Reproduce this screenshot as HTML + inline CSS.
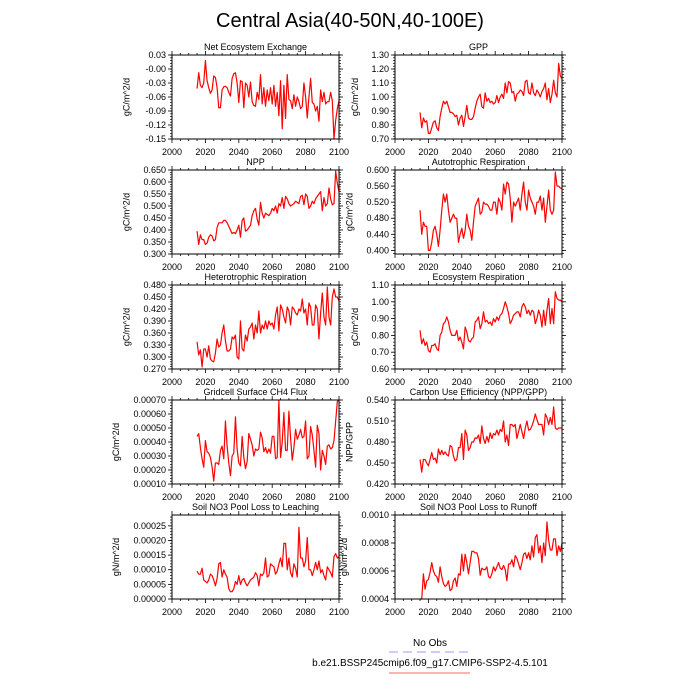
<!DOCTYPE html>
<html><head><meta charset="utf-8"><style>
body{margin:0;background:#fff;}
svg{display:block;font-family:"Liberation Sans",Arial,sans-serif;}
</style></head><body>
<svg id="c" width="700" height="700" viewBox="0 0 700 700">
<text x="350" y="27" text-anchor="middle" font-size="20">Central Asia(40-50N,40-100E)</text>
<g>
<text x="430" y="646" text-anchor="middle" font-size="10">No Obs</text>
<line x1="389" y1="652" x2="471" y2="652" stroke="#9999ff" stroke-width="1" stroke-dasharray="9,5"/>
<text x="430" y="666" text-anchor="middle" font-size="10">b.e21.BSSP245cmip6.f09_g17.CMIP6-SSP2-4.5.101</text>
<line x1="389" y1="673" x2="470" y2="673" stroke="#ff6666" stroke-width="1"/>
</g>
</svg>
<script>
const years = Array.from({length:86},(_, i)=>2015+i);
const xTicks = [2000,2020,2040,2060,2080,2100];
const nee = [-0.042,-0.008,-0.035,-0.04,-0.03, 0.018,-0.025,-0.04,-0.052,-0.045,-0.015,-0.018,-0.04,-0.083,-0.083, -0.045,-0.038,-0.037,-0.04,-0.05,-0.058,-0.02,-0.01,-0.008,-0.03, -0.072,-0.025,-0.027,-0.083,-0.03,-0.035,-0.06,-0.028,-0.07,-0.078, -0.08,-0.05,-0.065,-0.012,-0.075,-0.04,-0.08,-0.045,-0.068,-0.04, -0.075,-0.035,-0.08,-0.05,-0.1,-0.025,-0.128,-0.035,-0.106,-0.012, -0.065,-0.068,-0.085,-0.055,-0.08,-0.06,-0.07,-0.085,-0.08,-0.03, -0.06,-0.105,-0.06,-0.02,-0.072,-0.075,-0.09,-0.08,-0.112,-0.045, -0.07,-0.05,-0.075,-0.07,-0.07,-0.05,-0.068,-0.15,-0.11,-0.085,-0.068];
const gpp = [0.89,0.78,0.85,0.82,0.83, 0.74,0.74,0.78,0.82,0.83,0.78,0.76,0.86,0.92,0.97, 0.95,0.97,0.93,0.89,0.89,0.88,0.86,0.87,0.80,0.85, 0.87,0.79,0.86,0.94,0.85,0.84,0.84,0.86,0.92,0.97, 1.00,1.02,0.93,0.92,1.03,0.97,0.99,0.96,0.97,0.95, 0.96,1.01,0.96,1.00,1.02,0.99,1.10,1.03,1.11,1.10, 1.03,1.04,0.97,1.02,1.03,1.05,1.04,1.01,1.11,1.12, 1.03,1.02,1.10,1.03,1.01,1.05,1.03,1.00,1.04,1.06, 1.10,0.98,1.06,0.96,1.02,1.12,1.03,1.00,1.24,1.15,1.13];
const npp = [.395,.34,.38,.36,.36, .34,.345,.37,.38,.375,.355,.36,.41,.43,.43, .43,.44,.44,.43,.415,.40,.385,.39,.385,.40, .42,.37,.44,.45,.395,.40,.41,.42,.46,.48, .49,.445,.42,.515,.47,.45,.47,.465,.46,.47, .49,.48,.50,.47,.51,.50,.535,.49,.54,.53, .51,.50,.505,.51,.52,.515,.51,.54,.545,.505, .55,.54,.49,.50,.52,.51,.53,.54,.55,.56, .48,.535,.50,.51,.575,.53,.505,.51,.645,.595,.56];
const ar = [.50,.44,.47,.46,.46, .40,.40,.42,.45,.46,.44,.41,.45,.50,.54, .52,.54,.50,.47,.48,.49,.48,.48,.42,.44, .455,.43,.45,.49,.46,.45,.425,.47,.51,.52, .53,.49,.495,.52,.515,.515,.51,.50,.50,.52, .52,.49,.53,.52,.50,.565,.54,.57,.565,.53, .47,.52,.51,.52,.53,.50,.54,.57,.52,.50, .55,.53,.52,.51,.49,.52,.52,.535,.50,.53, .47,.51,.55,.50,.49,.50,.595,.56,.56,.555,.555];
const hr = [.338,.305,.318,.275,.32, .32,.30,.328,.295,.29,.288,.31,.345,.325,.33, .36,.38,.34,.315,.315,.32,.35,.345,.355,.30, .295,.39,.32,.315,.355,.34,.37,.375,.385,.345, .38,.36,.415,.36,.38,.37,.39,.37,.39,.38, .385,.37,.405,.425,.365,.43,.42,.40,.385,.425, .415,.38,.425,.42,.41,.405,.42,.415,.445,.41, .42,.38,.435,.425,.38,.38,.43,.42,.345,.41, .46,.40,.38,.475,.40,.38,.45,.47,.45,.45,.44];
const er = [.83,.75,.78,.74,.76, .71,.70,.74,.74,.75,.72,.71,.80,.82,.87, .88,.91,.88,.83,.80,.80,.80,.83,.77,.79, .76,.72,.85,.82,.77,.76,.78,.79,.88,.89, .91,.84,.87,.94,.88,.89,.87,.88,.86,.90, .88,.91,.89,.92,.93,.96,1.00,.97,.93,.87, .89,.92,.93,.94,.94,.91,.97,.99,.97,.93, .95,.92,.95,.94,.87,.90,.95,.92,.85,.95, .86,.95,1.02,.87,.96,.87,1.06,1.02,1.01,1.01,1.0];
const ch4 = [4.4,4.6,3.6,2.8,2.2, 4.1,3.3,3.2,2.9,2.2,1.2,2.5,2.5,2.4,3.4, 3.7,2.8,5.5,3.7,2.5,1.6,3.0,3.2,5.8,3.5, 2.5,2.3,4.4,2.9,2.1,2.6,4.6,4.2,3.8,3.0, 3.5,3.4,3.5,4.7,4.3,3.3,3.6,3.2,3.5,3.2, 4.4,4.4,2.8,2.9,7.0,2.9,4.0,6.1,3.4,3.4, 6.2,4.3,2.7,3.6,4.9,4.2,4.5,4.9,4.3,4.4, 5.5,2.8,3.0,5.1,4.5,3.4,2.2,5.2,4.6,2.0, 3.4,3.0,2.4,3.7,3.8,3.5,3.6,4.1,5.5,6.9,7.0].map(v=>v*1e-4);
const cue = [.455,.437,.455,.455,.45, .446,.455,.465,.455,.457,.45,.47,.462,.468,.462, .466,.462,.46,.475,.473,.46,.453,.455,.472,.472, .492,.455,.497,.49,.468,.472,.48,.48,.486,.485, .49,.478,.503,.485,.478,.488,.48,.493,.485,.492, .49,.497,.49,.498,.495,.51,.48,.49,.475,.505, .505,.502,.505,.485,.495,.505,.495,.485,.5,.51, .497,.498,.503,.51,.52,.512,.505,.505,.505,.49, .52,.515,.505,.515,.505,.53,.5,.498,.5,.5,.5];
const leach = [9.5,8.5,8.5,10.5,6.5, 6,5.5,6.5,8.5,8,6.5,4.5,7,12,12.5, 7.5,10,8.5,7.5,3.5,2.5,2.5,3.5,6,5, 8,5,6.5,7,5.5,4.5,5.5,6.5,7,7.5, 9,8,4.5,8.5,8,9,14,7.5,8,12, 11.5,11,8.5,9.5,12,14,11,19,19,10, 14,9,7.5,12,10.5,7.5,24.5,14,14,11, 13,21,10,10,8,10,12.5,10,13,9, 10,8,6.5,11,10,9,7.5,14.5,15.5,14,14.5].map(v=>v*1e-5);
const runoff = [4.0,4.0,5.8,4.7,5.3, 5.4,5.9,6.6,6.0,5.7,5.6,5.2,6.3,5.6,5.1, 4.9,5.0,5.3,4.6,4.7,5.3,5.5,4.9,5.8,5.7, 7.2,6.0,7.2,6.6,5.8,6.6,7.4,7.4,7.3,7.3, 6.9,5.7,6.2,6.1,6.1,6.3,5.6,5.5,5.8,6.3, 6.0,6.3,6.6,6.2,6.1,6.4,6.1,5.3,6.5,6.5, 6.8,6.3,7.1,6.9,6.5,6.1,6.6,7.2,7.3,6.9, 7.3,6.8,7.8,7.0,8.4,8.6,7.3,7.8,6.6,8.0, 7.1,9.5,8.2,7.5,7.5,8.3,8.3,7.1,7.8,7.4,8.0].map(v=>v*1e-4);
const neeTicks = [-0.15,-0.12,-0.09,-0.06,-0.03,0.0,0.03];
const neeLabels = ["-0.15","-0.12","-0.09","-0.06","-0.03","-0.00","0.03"];
const gppTicks = [0.7,0.8,0.9,1.0,1.1,1.2,1.3];
const nppTicks = [0.3,0.35,0.4,0.45,0.5,0.55,0.6,0.65];
const arTicks = [0.4,0.44,0.48,0.52,0.56,0.6];
const hrTicks = [0.27,0.3,0.33,0.36,0.39,0.42,0.45,0.48];
const erTicks = [0.6,0.7,0.8,0.9,1.0,1.1];
const ch4Ticks = [0.0001,0.0002,0.0003,0.0004,0.0005,0.0006,0.0007];
const cueTicks = [0.42,0.45,0.48,0.51,0.54];
const leachTicks = [0,0.00005,0.0001,0.00015,0.0002,0.00025];
const runoffTicks = [0.0004,0.0006,0.0008,0.001];

const panels = [
 {name:"nee",title:"Net Ecosystem Exchange",unit:"gC/m^2/d",d:nee,min:-0.15,max:0.03,t:neeTicks,lab:neeLabels,col:0,row:0},
 {name:"gpp",title:"GPP",unit:"gC/m^2/d",d:gpp,min:0.7,max:1.3,t:gppTicks,dec:2,col:1,row:0},
 {name:"npp",title:"NPP",unit:"gC/m^2/d",d:npp,min:0.3,max:0.65,t:nppTicks,dec:3,col:0,row:1},
 {name:"ar",title:"Autotrophic Respiration",unit:"gC/m^2/d",d:ar,min:0.391,max:0.6,t:arTicks,dec:3,col:1,row:1},
 {name:"hr",title:"Heterotrophic Respiration",unit:"gC/m^2/d",d:hr,min:0.27,max:0.48,t:hrTicks,dec:3,col:0,row:2},
 {name:"er",title:"Ecosystem Respiration",unit:"gC/m^2/d",d:er,min:0.6,max:1.1,t:erTicks,dec:2,col:1,row:2},
 {name:"ch4",title:"Gridcell Surface CH4 Flux",unit:"gC/m^2/d",d:ch4,min:0.0001,max:0.0007,t:ch4Ticks,dec:5,col:0,row:3},
 {name:"cue",title:"Carbon Use Efficiency (NPP/GPP)",unit:"NPP/GPP",d:cue,min:0.42,max:0.54,t:cueTicks,dec:3,col:1,row:3},
 {name:"leach",title:"Soil NO3 Pool Loss to Leaching",unit:"gN/m^2/d",d:leach,min:0,max:0.000287,t:leachTicks,dec:5,col:0,row:4},
 {name:"runoff",title:"Soil NO3 Pool Loss to Runoff",unit:"gN/m^2/d",d:runoff,min:0.0004,max:0.001,t:runoffTicks,dec:4,col:1,row:4}
];
const NS="http://www.w3.org/2000/svg";
const svg=document.getElementById('c');
function mk(tag,attrs,parent){const e=document.createElementNS(NS,tag);for(const k in attrs)e.setAttribute(k,attrs[k]);parent.appendChild(e);return e;}
const W=167,H=84;
panels.forEach(p=>{
 const L=p.col?395:172, T=55+p.row*115;
 const g=mk('g',{},svg);
 
 
 const xs=v=>L+(v-2000)/100*W;
 const ys=v=>T+H-(v-p.min)/(p.max-p.min)*H;
 const labels=p.t.map((v,i)=>p.lab?p.lab[i]:v.toFixed(p.dec));
 const maxLen=Math.max(...labels.map(s=>s.length));
 const tt=mk('text',{x:L+W/2,y:T-5,'text-anchor':'middle','font-size':9},g);tt.textContent=p.title;
 
 
 const ux=L-6-maxLen*5.3-10;
 const yt=mk('text',{x:0,y:0,'text-anchor':'middle','font-size':9,transform:`translate(${ux},${T+H/2}) rotate(-90)`},g);yt.textContent=p.unit;
 
 
 for(let y=2000;y<=2100;y+=5){const x=xs(y);const len=(y%20===0)?4:2;
  mk('line',{x1:x,y1:T+H,x2:x,y2:T+H+len,stroke:'#000','stroke-width':0.8},g);
  mk('line',{x1:x,y1:T,x2:x,y2:T-len,stroke:'#000','stroke-width':0.8},g);}
 xTicks.forEach(y=>{const tx=mk('text',{x:xs(y),y:T+H+16,'text-anchor':'middle','font-size':9},g);tx.textContent=y;
  
  });
 const step=p.t[1]-p.t[0];const ms=step/5;
 for(let v=p.t[0]-5*ms;v<=p.max+1e-12;v+=ms){ if(v<p.min-1e-12)continue;const y=ys(v);
  mk('line',{x1:L,y1:y,x2:L-2,y2:y,stroke:'#000','stroke-width':0.7},g);
  mk('line',{x1:L+W,y1:y,x2:L+W+2,y2:y,stroke:'#000','stroke-width':0.7},g);}
 p.t.forEach((v,i)=>{const y=ys(v);
  mk('line',{x1:L,y1:y,x2:L-4,y2:y,stroke:'#000','stroke-width':0.8},g);
  mk('line',{x1:L+W,y1:y,x2:L+W+4,y2:y,stroke:'#000','stroke-width':0.8},g);
  const lt=mk('text',{x:L-6,y:y+3,'text-anchor':'end','font-size':9},g);
  lt.textContent=labels[i];
  
  });
 const pts=p.d.map((v,i)=>xs(years[i]).toFixed(2)+','+ys(v).toFixed(2)).join(' ');
 const ln=mk('polyline',{points:pts,fill:'none',stroke:'#ff0000','stroke-width':1.2,'stroke-linejoin':'round'},g);
 
 
 const fr=mk('rect',{x:L,y:T,width:W,height:H,fill:'none',stroke:'#000','stroke-width':1},g);
 
 
});
</script>
</body></html>
